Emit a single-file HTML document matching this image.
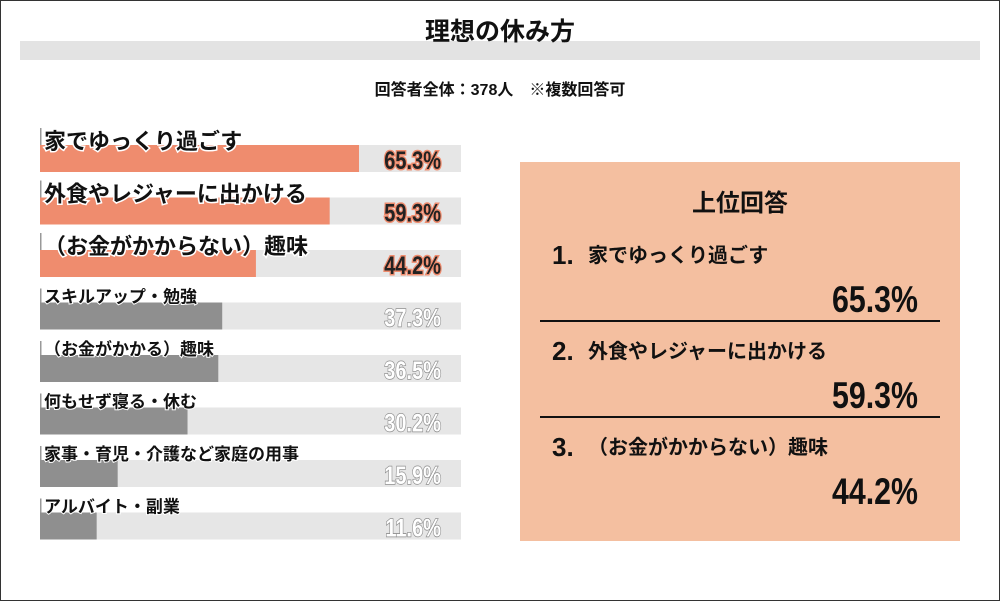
<!DOCTYPE html>
<html><head><meta charset="utf-8">
<style>
body{margin:0;background:#fff}
svg text{font-family:"Liberation Sans","Noto Sans CJK JP",sans-serif}
.pct{font-family:"Liberation Sans Narrow","Liberation Sans",sans-serif;font-weight:bold}
</style></head>
<body>
<svg id="chart" width="1000" height="601" viewBox="0 0 1000 601" xmlns="http://www.w3.org/2000/svg">
<rect x="0.5" y="0.5" width="999" height="600" fill="#fff" stroke="#333" stroke-width="1"/>
<rect x="20" y="41" width="960" height="19" fill="#e3e3e3"/>
<text x="500" y="40" text-anchor="middle" font-size="25" font-weight="bold" fill="#111">理想の休み方</text>
<text x="500" y="95" text-anchor="middle" font-size="16" font-weight="bold" fill="#111">回答者全体：378人　※複数回答可</text>
<g id="bars"></g>
<g>
<rect x="520" y="162" width="440" height="379" fill="#f4bfa0"/>
<text x="740" y="211" text-anchor="middle" font-size="24" font-weight="bold" fill="#111">上位回答</text>
<g id="tops"></g>
</g>
</svg>
<script>
const categories=["家でゆっくり過ごす","外食やレジャーに出かける","（お金がかからない）趣味","スキルアップ・勉強","（お金がかかる）趣味","何もせず寝る・休む","家事・育児・介護など家庭の用事","アルバイト・副業"];
const values=[65.3,59.3,44.2,37.3,36.5,30.2,15.9,11.6];
const topCount=3;
const NS="http://www.w3.org/2000/svg";
function el(t,a,p,txt){const e=document.createElementNS(NS,t);for(const k in a)e.setAttribute(k,a[k]);if(txt!=null)e.textContent=txt;p.appendChild(e);return e;}
const x0=40,trackW=421,scale=4.885;
function xs(v){return v*scale;}
function ys(i){return 145+i*52.5;}
const g=document.getElementById('bars');
categories.forEach((c,i)=>{
  const top=i<topCount,y=ys(i);
  const tr=el('rect',{x:x0,y:y,width:trackW,height:27,fill:'#e6e6e6'},g);
  
  
  const b=el('rect',{x:x0,y:y,width:xs(values[i]),height:27,fill:top?'#ef8c6e':'#8f8f8f'},g);
  
  
  const tk=el('rect',{x:x0,y:y-(top?17:14),width:1.5,height:top?17:14,fill:'#999'},g);
  
  
  const lb=el('text',{x:x0+4,y:top?y+4:y,'font-size':top?22:17,'font-weight':'bold',fill:'#111',stroke:'#fff','stroke-width':top?3:2,'paint-order':'stroke'},g,c);
  
  
  const pt=el('text',{x:441,y:y+24,'text-anchor':'end','font-size':25,'class':'pct',fill:top?'#222':'#fff',stroke:top?'#ef8c6e':'#8f8f8f','stroke-width':top?3:1.5,'paint-order':'stroke',transform:'translate(441 0) scale(0.8 1) translate(-441 0)'},g,values[i].toFixed(1)+'%');
  
  
});
const tg=document.getElementById('tops');
for(let i=0;i<topCount;i++){
  const by=264+i*96;
  const n=el('text',{x:552,y:by,'font-size':26,'font-weight':'bold',fill:'#111'},tg,(i+1)+'.');
  
  
  const t=el('text',{x:588,y:by-2,'font-size':20,'font-weight':'bold',fill:'#111'},tg,categories[i]);
  
  
  const p=el('text',{x:918,y:by+48,'text-anchor':'end','font-size':37,'class':'pct',fill:'#111',transform:'translate(918 0) scale(0.82 1) translate(-918 0)'},tg,values[i].toFixed(1)+'%');
  
  
  if(i<topCount-1){
    const l=el('rect',{x:540,y:by+56,width:400,height:2,fill:'#111'},tg);
    
    
  }
}
</script>
</body></html>
